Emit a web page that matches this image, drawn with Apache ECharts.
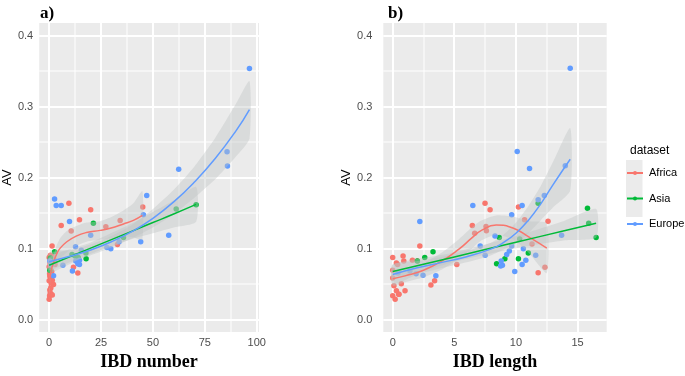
<!DOCTYPE html>
<html><head><meta charset="utf-8">
<script src="https://cdn.jsdelivr.net/npm/echarts@6/dist/echarts.min.js"></script>
<style>html,body{margin:0;padding:0;background:#fff}#c{width:685px;height:376px}</style>
</head><body><div id="c"></div>
<script>
const groups = ['Africa', 'Asia', 'Europe'];
const colors = ['#F8766D', '#00BA38', '#619CFF'];

// ---------- Panel a: IBD number vs AV ----------
const africaA = [[9.5,0.164],[20,0.155],[5.8,0.133],[14.6,0.141],[10.6,0.125],[1.4,0.104],[34.2,0.140],[27.3,0.131],[45.1,0.159],[32.9,0.106],[11.7,0.074],[13.8,0.066],[2.1,0.050],
  [0,0.029],[0.2,0.034],[0.5,0.038],[1,0.036],[1.5,0.035],[0.3,0.042],[0.8,0.045],[0,0.055],[0.5,0.060],[1,0.052],[1.5,0.056],[0.2,0.065],[0.7,0.070],[0,0.075],[0.4,0.080],[0,0.088],[0.6,0.091],[1.6,0.089],[2.4,0.085],[1,0.083],[0.3,0.062],[1.2,0.068],[2.8,0.078]];
const asiaA = [[2.6,0.096],[17.8,0.086],[17.7,0.094],[21.3,0.136],[35.8,0.116],[61.2,0.156],[70.8,0.162],[0.3,0.070],[11,0.092],[0.6,0.087],[12.5,0.090],[14,0.088]];
const europeA = [[2.6,0.170],[3.4,0.161],[5.8,0.161],[9.8,0.1385],[6.6,0.077],[2.1,0.062],[11.2,0.069],[12.8,0.083],[14.6,0.084],[13.8,0.079],[14.6,0.078],[12.7,0.103],[20,0.119],[27.8,0.102],[29.7,0.100],[33.7,0.110],[44.1,0.110],[45.4,0.148],[47,0.175],[57.6,0.119],[62.4,0.212],[85.7,0.2365],[85.9,0.2165],[96.5,0.3536],[15.5,0.098],[0.3,0.083],[1,0.078]];

const afrA_fitX = [0,0.5,1,2,3.5,5.3,8.5,13,18,24.6,29.4,35.8,40.6,44.9];
const afrA_fitY = [0.045,0.060,0.070,0.080,0.092,0.101,0.110,0.118,0.123,0.126,0.129,0.135,0.140,0.147];
const afrA_lo   = [0.035,0.051,0.062,0.071,0.080,0.087,0.095,0.104,0.110,0.113,0.115,0.117,0.116,0.113];
const afrA_hi   = [0.055,0.069,0.078,0.089,0.104,0.115,0.125,0.132,0.137,0.139,0.144,0.154,0.164,0.181];

const asiA_fitX = [0,20,40,50,60,70.8];
const asiA_fitY = [0.077,0.101,0.125,0.137,0.149,0.1625];
const asiA_lo   = [0.066,0.093,0.114,0.122,0.130,0.138];
const asiA_hi   = [0.088,0.109,0.136,0.152,0.168,0.187];

const eurA_fitX = [0,10,20,30,40,50,60,70,80,90,96.5];
const eurA_fitY = [0.082,0.0895,0.0985,0.110,0.1245,0.143,0.166,0.194,0.227,0.266,0.296];
const eurA_lo   = [0.070,0.081,0.091,0.102,0.115,0.130,0.149,0.172,0.198,0.230,0.255];
const eurA_hi   = [0.094,0.098,0.106,0.118,0.134,0.156,0.183,0.216,0.256,0.304,0.336];

// ---------- Panel b: IBD length vs AV ----------
const africaB = [[7.49,0.164],[7.9,0.155],[6.46,0.133],[7.57,0.1315],[7.6,0.1255],[6.65,0.122],[10.2,0.159],[10.7,0.141],[12.6,0.139],[11.3,0.107],[12.35,0.074],[11.8,0.0665],[2.2,0.104],[5.2,0.078],[3.1,0.049],[3.4,0.055],[1.0,0.041],[0.5,0.036],
  [0,0.088],[0.84,0.090],[0.9,0.083],[1.6,0.084],[2.0,0.083],[0.3,0.080],[0.4,0.078],[0,0.070],[0,0.059],[0.1,0.048],[0.3,0.041],[0,0.034],[0.5,0.036],[0.2,0.029],[0.7,0.051]];
const asiaB = [[11.8,0.164],[15.8,0.157],[15.9,0.136],[16.5,0.116],[8.65,0.116],[10.3,0.114],[8.43,0.079],[9.1,0.086],[10.2,0.086],[11.0,0.094],[3.27,0.096],[2.6,0.088],[2.0,0.083]];
const europeB = [[10.1,0.237],[11.1,0.213],[14.0,0.217],[14.4,0.354],[12.3,0.175],[11.8,0.169],[10.5,0.161],[9.65,0.148],[6.5,0.161],[2.2,0.1385],[8.3,0.118],[13.7,0.119],[7.1,0.104],[10.6,0.100],[11.6,0.091],[7.5,0.091],[8.9,0.077],[9.25,0.092],[9.46,0.097],[9.65,0.104],[9.9,0.068],[10.5,0.078],[10.8,0.084],[8.76,0.076],[2.46,0.063],[3.5,0.062],[0.43,0.066],[1.4,0.069],[1.9,0.065],[8.8,0.083]];

const afrB_fitX = [0,1,2.5,4,5.4,6.4,7.2,8.4,9.8,11.1,12.5];
const afrB_fitY = [0.058,0.062,0.070,0.083,0.100,0.115,0.126,0.1335,0.129,0.116,0.101];
const afrB_lo   = [0.048,0.053,0.060,0.071,0.086,0.100,0.112,0.120,0.113,0.093,0.066];
const afrB_hi   = [0.068,0.071,0.080,0.095,0.114,0.130,0.140,0.147,0.145,0.139,0.136];

const asiB_fitX = [0,5,10,14,16.5];
const asiB_fitY = [0.068,0.0886,0.1093,0.1258,0.136];
const asiB_lo   = [0.058,0.082,0.101,0.112,0.116];
const asiB_hi   = [0.078,0.095,0.118,0.140,0.156];

const eurB_fitX = [0,2,4,6,8,9,10,11,12,13,14.4];
const eurB_fitY = [0.064,0.0735,0.081,0.089,0.100,0.109,0.122,0.140,0.163,0.190,0.226];
const eurB_lo   = [0.050,0.064,0.073,0.081,0.091,0.099,0.108,0.122,0.140,0.158,0.182];
const eurB_hi   = [0.078,0.083,0.089,0.097,0.109,0.120,0.137,0.160,0.188,0.222,0.270];

// ---------- ticks ----------
const xTicksA = [0,25,50,75,100];
const xMinorA = [12.5,37.5,62.5,87.5];
const xTicksB = [0,5,10,15];
const xMinorB = [2.5,7.5,12.5];
const yTicks = [0,0.1,0.2,0.3,0.4];
const yMinor = [0.05,0.15,0.25,0.35];

const chart = echarts.init(document.getElementById('c'), null, {renderer: 'canvas'});

// one white grid line per row: vertical lines at x values, horizontal lines at y values
function gridLines(idx, xMaj, xMin, yMaj, yMin, ref) {
  const rows = [];
  xMin.forEach(t => rows.push({value: [t, ref[1]], o: 0, w: 1}));
  yMin.forEach(t => rows.push({value: [ref[0], t], o: 1, w: 1}));
  xMaj.forEach(t => rows.push({value: [t, ref[1]], o: 0, w: 2}));
  yMaj.forEach(t => rows.push({value: [ref[0], t], o: 1, w: 2}));
  return {
    type: 'custom', xAxisIndex: idx, yAxisIndex: idx, z: 1, silent: true, clip: false,
    data: rows.map(r => r.value),
    renderItem: function (params, api) {
      const r = rows[params.dataIndex];
      const cs = params.coordSys;
      const p = api.coord(r.value);
      if (r.o === 0) {
        const x = Math.round(p[0]);
        return {type: 'rect', z2: 5, shape: {x: x - r.w / 2, y: cs.y, width: r.w, height: cs.height}, style: {fill: '#FFFFFF'}};
      }
      const y = Math.round(p[1]);
      return {type: 'rect', z2: 5, shape: {x: cs.x, y: y - r.w / 2, width: cs.width, height: r.w}, style: {fill: '#FFFFFF'}};
    }
  };
}
function scatterSeries(idx, g, pts) {
  return {type: 'scatter', name: groups[g] + ' points', xAxisIndex: idx, yAxisIndex: idx, data: pts, z: 2,
    symbolSize: 5.5, itemStyle: {color: colors[g], opacity: 1}, silent: true};
}
function bandSeries(idx, g, fx, lo, hi) {
  return {
    type: 'custom', name: groups[g] + ' band', xAxisIndex: idx, yAxisIndex: idx, z: 3, silent: true, clip: true,
    data: fx.map((x, i) => [x, lo[i], hi[i]]),
    encode: {x: 0, y: [1, 2]},
    renderItem: function (params, api) {
      if (params.dataIndex !== 0) return null;
      const pts = [];
      for (let i = 0; i < fx.length; i++) pts.push(api.coord([fx[i], hi[i]]));
      for (let i = fx.length - 1; i >= 0; i--) pts.push(api.coord([fx[i], lo[i]]));
      return {type: 'polygon', shape: {points: pts, smooth: 0.2}, style: {fill: 'rgba(190,196,196,0.40)', stroke: null}};
    }
  };
}
function fitSeries(idx, g, fx, fy) {
  return {type: 'line', name: groups[g], xAxisIndex: idx, yAxisIndex: idx, z: 4, silent: true,
    data: fx.map((x, i) => [x, fy[i]]), smooth: 0.5,
    symbol: 'circle', symbolSize: 4, showSymbol: false,
    lineStyle: {color: colors[g], width: 1.5}, itemStyle: {color: colors[g]}};
}

function xAxis(idx, min, max, ticks, name) {
  return {type: 'value', gridIndex: idx, min: min, max: max,
    axisLine: {show: false},
    axisTick: {show: true, length: 3.5, lineStyle: {color: '#333333', width: 1}, customValues: ticks},
    axisLabel: {customValues: ticks, color: '#4D4D4D', fontSize: 11, margin: 5, fontFamily: 'Liberation Sans'},
    splitLine: {show: false}, splitArea: {show: false},
    name: name, nameLocation: 'middle', nameGap: 20,
    nameTextStyle: {fontFamily: 'Liberation Serif', fontWeight: 'bold', fontSize: 18, color: '#000'}};
}
function yAxis(idx, margin, gap) {
  return {type: 'value', gridIndex: idx, min: -0.0171, max: 0.4177,
    axisLine: {show: false},
    axisTick: {show: true, length: 3.5, lineStyle: {color: '#333333', width: 1}, customValues: yTicks},
    axisLabel: {customValues: yTicks, color: '#4D4D4D', fontSize: 11, margin: margin, fontFamily: 'Liberation Sans',
      formatter: v => v.toFixed(1)},
    splitLine: {show: false}, splitArea: {show: false},
    name: 'AV', nameLocation: 'middle', nameGap: gap,
    nameTextStyle: {fontFamily: 'Liberation Sans', fontSize: 13, color: '#000'}};
}

const series = [
  gridLines(0, xTicksA, xMinorA, yTicks, yMinor, [50, 0.2]),
  gridLines(1, xTicksB, xMinorB, yTicks, yMinor, [8, 0.2]),
  fitSeries(0, 0, afrA_fitX, afrA_fitY), fitSeries(0, 1, asiA_fitX, asiA_fitY), fitSeries(0, 2, eurA_fitX, eurA_fitY),
  fitSeries(1, 0, afrB_fitX, afrB_fitY), fitSeries(1, 1, asiB_fitX, asiB_fitY), fitSeries(1, 2, eurB_fitX, eurB_fitY),
  scatterSeries(0, 0, africaA), scatterSeries(0, 1, asiaA), scatterSeries(0, 2, europeA),
  scatterSeries(1, 0, africaB), scatterSeries(1, 1, asiaB), scatterSeries(1, 2, europeB),
  bandSeries(0, 0, afrA_fitX, afrA_lo, afrA_hi), bandSeries(0, 1, asiA_fitX, asiA_lo, asiA_hi), bandSeries(0, 2, eurA_fitX, eurA_lo, eurA_hi),
  bandSeries(1, 0, afrB_fitX, afrB_lo, afrB_hi), bandSeries(1, 1, asiB_fitX, asiB_lo, asiB_hi), bandSeries(1, 2, eurB_fitX, eurB_lo, eurB_hi)
];

chart.setOption({
  animation: false,
  backgroundColor: '#ffffff',
  title: [
    {text: 'a)', left: 35, top: 0, textStyle: {fontFamily: 'Liberation Serif', fontWeight: 'bold', fontSize: 17, color: '#000'}},
    {text: 'b)', left: 383, top: 0, textStyle: {fontFamily: 'Liberation Serif', fontWeight: 'bold', fontSize: 17, color: '#000'}},
    {text: 'dataset', left: 625, top: 140, textStyle: {fontFamily: 'Liberation Sans', fontWeight: 'normal', fontSize: 12, color: '#000'}}
  ],
  grid: [
    {left: 39, top: 23, width: 220, height: 312, show: true, backgroundColor: '#EBEBEB', borderWidth: 0},
    {left: 383.3, top: 23, width: 223.4, height: 312, show: true, backgroundColor: '#EBEBEB', borderWidth: 0}
  ],
  xAxis: [xAxis(0, -4.81, 101.1, xTicksA, 'IBD number'), xAxis(1, -0.762, 17.36, xTicksB, 'IBD length')],
  yAxis: [yAxis(0, 6, 19), yAxis(1, 11, 20)],
  legend: {
    data: groups, orient: 'vertical', left: 626, top: 167.5, padding: 0, itemWidth: 16, itemHeight: 5, itemGap: 14.5,
    selectedMode: false, textStyle: {fontFamily: 'Liberation Sans', fontSize: 11, color: '#000', padding: [0, 0, 0, 1]}
  },
  graphic: [
    {type: 'rect', left: 626, top: 160, shape: {width: 16.5, height: 57}, style: {fill: '#EBEBEB'}, z: -1, silent: true}
  ],
  series: series
});
</script>
</body></html>
